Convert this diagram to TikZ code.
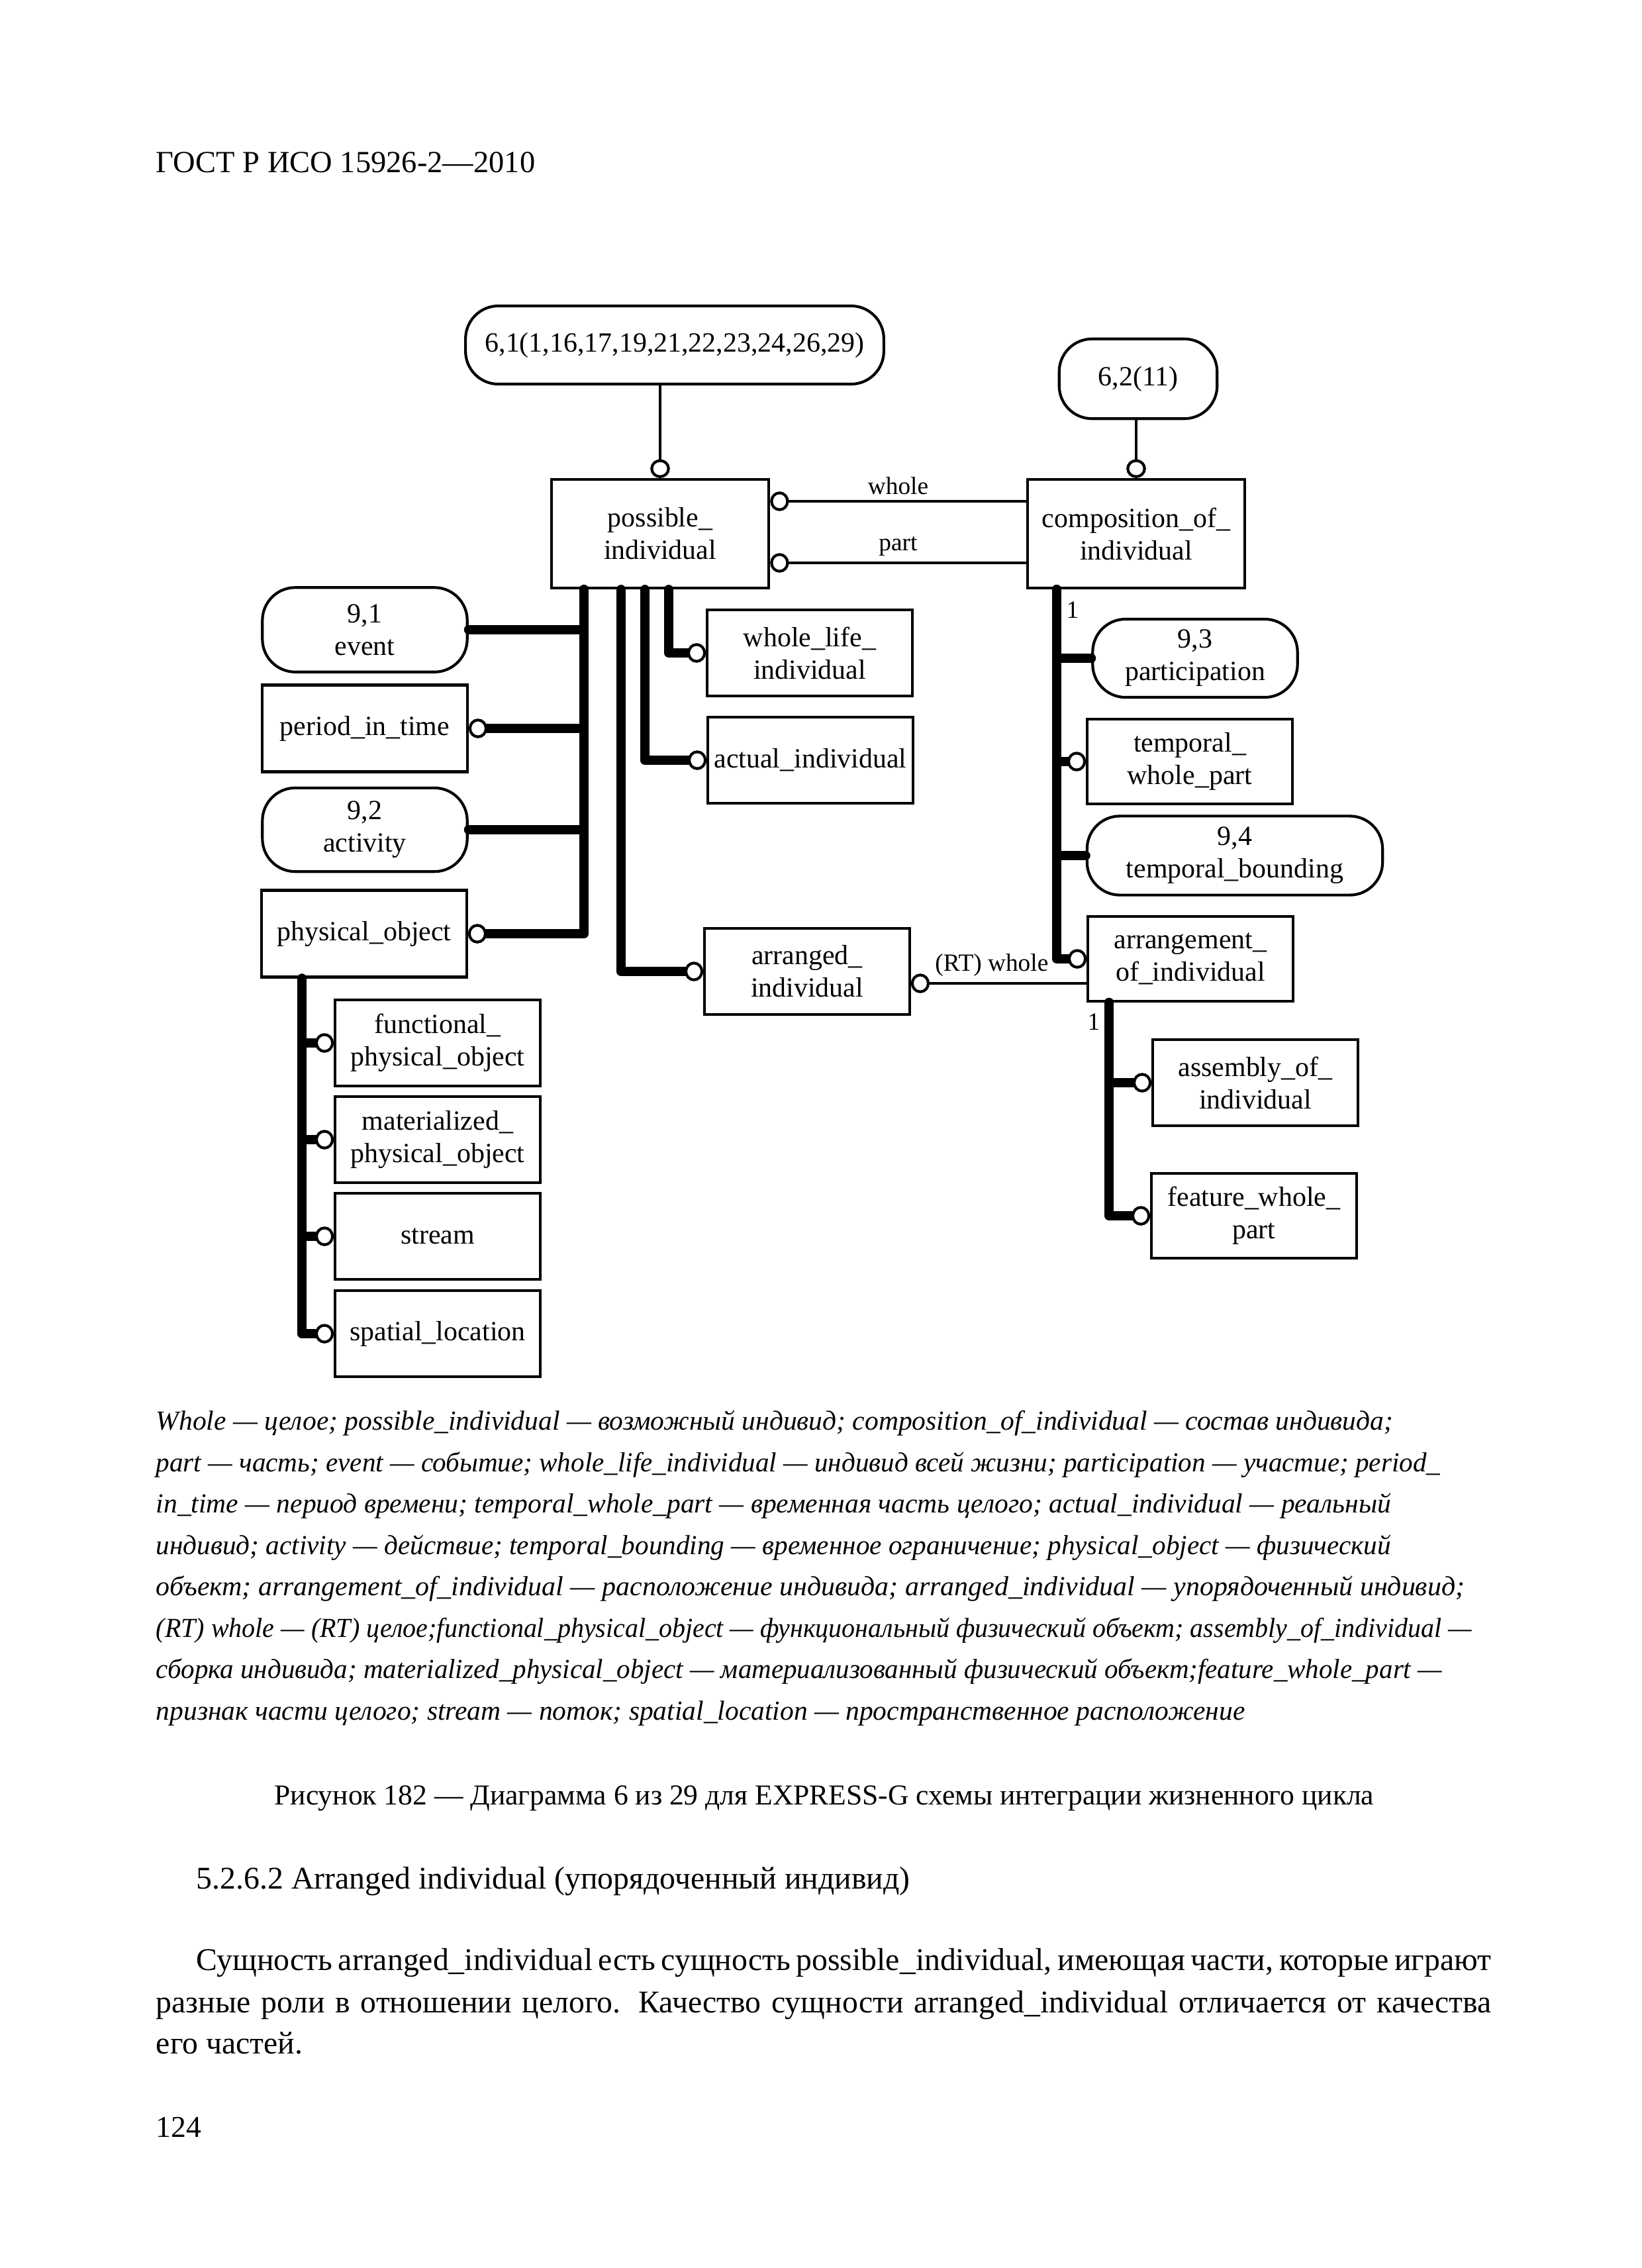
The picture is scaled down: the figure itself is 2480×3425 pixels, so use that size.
\documentclass[tikz,border=0pt]{standalone}
\usepackage{graphicx}
\usepackage{fontspec}
\setmainfont{Liberation Serif}
\usetikzlibrary{arrows.meta,calc}

\begin{document}
\begin{tikzpicture}[x=0.0084677cm, y=-0.0084677cm,
    ent/.style={draw, line width=1pt, minimum width=2.62cm, minimum height=1.1cm,
      inner sep=1pt, align=center, font=\fontsize{10.1}{11.8}\selectfont},
    refx/.style={ent, rounded corners=0.42cm},
    bar/.style={line width=3.4pt, line cap=round, line join=round},
    rel/.style={line width=1pt},
    oc/.style={-{Circle[fill=white, length=2.4mm, width=2.5mm, line width=1pt 0 0]}},
    lbl/.style={font=\fontsize{9}{11}\selectfont, inner sep=2pt},
    leg/.style={anchor=base west, inner sep=0pt, font=\fontsize{10}{12}\selectfont\itshape},
    txt/.style={anchor=base west, inner sep=0pt, font=\fontsize{11.5}{14}\selectfont}]
  \useasboundingbox (0,0) rectangle (2480,3425);

  \node[anchor=base west, inner sep=0pt, font=\fontsize{11.2}{14}\selectfont] (hdr) at (235,260) {ГОСТ Р ИСО 15926-2—2010};

  % ссылки на страницы
  \node[refx, minimum width=5.35cm, minimum height=1cm] (r61) at (1019,521) {6,1(1,16,17,19,21,22,23,24,26,29)};
  \node[refx, minimum width=2.02cm, minimum height=1.02cm] (r62) at (1719,572) {6,2(11)};

  % основные сущности
  \node[ent, minimum width=2.78cm, minimum height=1.39cm] (pi) at (997,806) {possible\_\\individual};
  \node[ent, minimum width=2.78cm, minimum height=1.39cm] (co) at (1716,806) {composition\_of\_\\individual};

  % слева
  \node[refx, minimum height=1.08cm] (ev) at (551,951) {9,1\\event};
  \node[ent, minimum height=1.11cm] (pt) at (551,1100) {period\_in\_time};
  \node[refx, minimum height=1.07cm] (ac) at (551,1253) {9,2\\activity};
  \node[ent, minimum height=1.11cm] (po) at (550,1410) {physical\_object};

  % в середине
  \node[ent] (wl) at (1223,986) {whole\_life\_\\individual};
  \node[ent] (au) at (1224,1148) {actual\_individual};
  \node[ent] (ai) at (1219,1467) {arranged\_\\individual};

  % справа
  \node[refx, minimum height=1cm] (pa) at (1805,994) {9,3\\participation};
  \node[ent, minimum height=1.08cm] (tw) at (1797,1150) {temporal\_\\whole\_part};
  \node[refx, minimum width=3.78cm, minimum height=1.01cm] (tb) at (1865,1292) {9,4\\temporal\_bounding};
  \node[ent, minimum height=1.08cm] (ag) at (1798,1448) {arrangement\_\\of\_individual};
  \node[ent] (as) at (1896,1635) {assembly\_of\_\\individual};
  \node[ent, minimum height=1.08cm] (fw) at (1894,1836) {feature\_whole\_\\part};

  % подтипы physical_object
  \node[ent] (fp) at (661,1575) {functional\_\\physical\_object};
  \node[ent] (mp) at (661,1721) {materialized\_\\physical\_object};
  \node[ent] (st) at (661,1867) {stream};
  \node[ent] (sl) at (661,2014) {spatial\_location};

  % отношения
  \draw[rel,oc] (r61.south -| pi.north) -- (pi.north);
  \draw[rel,oc] (r62.south -| co.north) -- (co.north);
  \draw[rel,oc] ($(co.west)+(0,-49)$) coordinate (cw) -- (cw -| pi.east) node[lbl, midway, above] {whole};
  \draw[rel,oc] ($(co.west)+(0,44)$) coordinate (cp) -- (cp -| pi.east) node[lbl, midway, above] {part};
  \draw[rel,oc] ($(ag.west)+(0,37)$) coordinate (aw) -- (aw -| ai.east) node[lbl, pos=0.54, above] {(RT) whole};

  % деревья подтипов
  \coordinate (ta) at ($(pi.south)+(-115,0)$);
  \draw[bar] (ta) |- (ev.east);
  \draw[bar,oc] (ta) |- (pt.east);
  \draw[bar] (ta) |- (ac.east);
  \draw[bar,oc] (ta) |- (po.east);
  \draw[bar,oc] ($(pi.south)+(-59,0)$) |- (ai.west);
  \draw[bar,oc] ($(pi.south)+(-23,0)$) |- (au.west);
  \draw[bar,oc] ($(pi.south)+(13,0)$) |- (wl.west);

  \coordinate (tc) at ($(co.south)+(-120,0)$);
  \draw[bar] (tc) |- (pa.west);
  \draw[bar,oc] (tc) |- (tw.west);
  \draw[bar] (tc) |- (tb.west);
  \draw[bar,oc] (tc) |- (ag.west);
  \node[lbl] (m1) at (1620,921) {1};

  \coordinate (tg) at ($(ag.south)+(-123,0)$);
  \draw[bar,oc] (tg) |- (as.west);
  \draw[bar,oc] (tg) |- (fw.west);
  \node[lbl] (m2) at (1652,1543) {1};

  \coordinate (tp) at ($(po.south)+(-94,0)$);
  \draw[bar,oc] (tp) |- (fp.west);
  \draw[bar,oc] (tp) |- (mp.west);
  \draw[bar,oc] (tp) |- (st.west);
  \draw[bar,oc] (tp) |- (sl.west);

  % пояснения
  \node[leg] (g1) at (235,2159) {Whole — целое; possible\_individual — возможный индивид; composition\_of\_individual — состав индивида;};
  \node[leg] (g2) at (235,2222) {\scalebox{0.991}[1]{part — часть; event — событие; whole\_life\_individual — индивид всей жизни; participation — участие; period\_}};
  \node[leg] (g3) at (235,2284) {in\_time — период времени; temporal\_whole\_part — временная часть целого; actual\_individual — реальный};
  \node[leg] (g4) at (235,2347) {\scalebox{0.993}[1]{индивид; activity — действие; temporal\_bounding — временное ограничение; physical\_object — физический}};
  \node[leg] (g5) at (235,2409) {\scalebox{1.01}[1]{объект; arrangement\_of\_individual — расположение индивида; arranged\_individual — упорядоченный индивид;}};
  \node[leg] (g6) at (235,2472) {\scalebox{0.963}[1]{(RT) whole — (RT) целое;functional\_physical\_object — функциональный физический объект; assembly\_of\_individual —}};
  \node[leg] (g7) at (235,2534) {\scalebox{0.988}[1]{сборка индивида; materialized\_physical\_object — материализованный физический объект;feature\_whole\_part —}};
  \node[leg] (g8) at (235,2597) {признак части целого; stream — поток; spatial\_location — пространственное расположение};

  \node[anchor=base, inner sep=0pt, font=\fontsize{10.5}{13}\selectfont] (cap) at (1245,2725) {Рисунок 182 — Диаграмма 6 из 29 для EXPRESS-G схемы интеграции жизненного цикла};

  \node[txt] (sec) at (296,2852) {5.2.6.2 Arranged individual (упорядоченный индивид)};
  \node[txt] (b1) at (296,2975) {\makebox[16.56cm][s]{Сущность arranged\_individual есть сущность possible\_individual, имеющая части, которые играют}};
  \node[txt] (b2) at (235,3039) {\makebox[17.08cm][s]{разные роли в отношении целого. Качество сущности arranged\_individual отличается от качества}};
  \node[txt] (b3) at (235,3101) {его частей.};

  \node[anchor=base west, inner sep=0pt, font=\fontsize{11}{13}\selectfont] (pg) at (235,3227) {124};
\end{tikzpicture}
\end{document}
